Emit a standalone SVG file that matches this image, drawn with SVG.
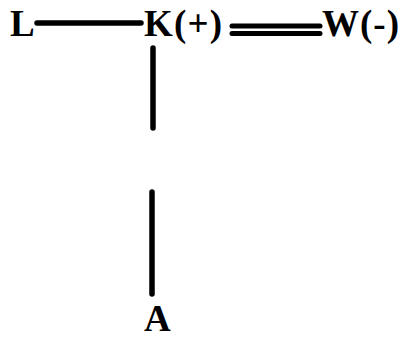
<svg xmlns="http://www.w3.org/2000/svg" width="405" height="340" viewBox="0 0 405 340">
<style>
.lbl{font-family:"Liberation Serif","Times New Roman",serif;font-weight:bold;font-size:37px;fill:#000}
.ln{stroke:#000;stroke-width:5.5;stroke-linecap:round;fill:none}
.dl{stroke:#000;stroke-width:5;stroke-linecap:round;fill:none}
</style>
<rect width="405" height="340" fill="#fff"/>
<g id="connectors">
<line class="ln" x1="37" y1="23" x2="141" y2="23"/>
<line class="dl" x1="232" y1="26" x2="320" y2="26"/>
<line class="dl" x1="232" y1="33.5" x2="320" y2="33.5"/>
<line class="ln" x1="153" y1="48" x2="153" y2="128"/>
<line class="ln" x1="152" y1="192" x2="152" y2="294"/>
</g>
<g id="node-L"><text class="lbl" x="10" y="36">L</text></g>
<g id="node-K"><text class="lbl" x="144" y="36" textLength="78" lengthAdjust="spacing">K(+)</text></g>
<g id="node-W"><text class="lbl" x="322" y="36" textLength="77" lengthAdjust="spacing">W(-)</text></g>
<g id="node-A"><text class="lbl" x="144" y="331">A</text></g>
</svg>
